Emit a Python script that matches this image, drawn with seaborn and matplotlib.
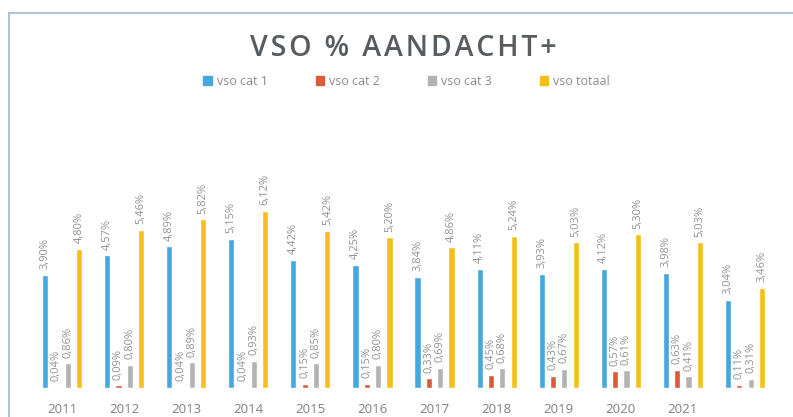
import pandas as pd
import seaborn as sns
import matplotlib.pyplot as plt
from matplotlib.patches import Rectangle

# values (percentages)
years = ['2011', '2012', '2013', '2014', '2015', '2016',
         '2017', '2018', '2019', '2020', '2021', '2022']
tick_labels = ['2011', '2012', '2013', '2014', '2015', '2016',
               '2017', '2018', '2019', '2020', '2021', '']
series = ['vso cat 1', 'vso cat 2', 'vso cat 3', 'vso totaal']
cat1 = [3.90, 4.57, 4.89, 5.15, 4.42, 4.25, 3.84, 4.11, 3.93, 4.12, 3.98, 3.04]
cat2 = [0.04, 0.09, 0.04, 0.04, 0.15, 0.15, 0.33, 0.45, 0.43, 0.57, 0.63, 0.11]
cat3 = [0.86, 0.80, 0.89, 0.93, 0.85, 0.80, 0.69, 0.68, 0.67, 0.61, 0.41, 0.31]
totaal = [4.80, 5.46, 5.82, 6.12, 5.42, 5.20, 4.86, 5.24, 5.03, 5.30, 5.03, 3.46]

colors = ['#45A7DE', '#DA5B3A', '#B3B3B3', '#F4BF1A']

rows = []
for name, vals in zip(series, [cat1, cat2, cat3, totaal]):
    for y, v in zip(years, vals):
        rows.append({'jaar': y, 'serie': name, 'pct': v})
df = pd.DataFrame(rows)

sns.set_style('white')
plt.rcParams['font.family'] = ['Open Sans', 'DejaVu Sans']

fig = plt.figure(figsize=(7.93, 4.17), dpi=100)
ax = fig.add_axes([31 / 793, 29 / 417, 745 / 793, 203 / 417])

sns.barplot(data=df, x='jaar', y='pct', hue='serie', order=years,
            hue_order=series, palette=colors, width=0.73, gap=0.45,
            saturation=1, legend=False, ax=ax)

# data labels, Dutch decimal comma
for cont in ax.containers:
    labs = [f'{b.get_height():.2f}%'.replace('.', ',') for b in cont]
    ax.bar_label(cont, labels=labs, rotation=90, padding=4,
                 fontsize=8, color='#929292')

ax.set_ylim(0, 7)
ax.set_xlim(-0.5, 11.5)
ax.set_xticks(range(len(years)))
ax.set_xticklabels(tick_labels, fontsize=9.5, color='#808080')
ax.tick_params(axis='x', length=0, pad=11)
ax.set_yticks([])
ax.set_xlabel('')
ax.set_ylabel('')
for s in ax.spines.values():
    s.set_visible(False)

# letter-spaced title
title = '\u200a'.join('VSO % AANDACHT+')
fig.text(0.509, 0.884, title, ha='center', va='center',
         fontsize=20.5, color='#575C61', fontweight='semibold')

handles = [Rectangle((0, 0), 1, 1, color=c) for c in colors]
fig.legend(handles, series, loc='center', bbox_to_anchor=(0.513, 0.805),
           ncol=4, frameon=False, fontsize=9, labelcolor='#8A8A8A',
           handlelength=0.7, handleheight=0.7, handletextpad=0.4,
           columnspacing=3.8)

# outer chart frame
fig.patches.append(Rectangle((9 / 793, -0.02), 1.0, (417 - 13) / 417 + 0.02,
                             transform=fig.transFigure, fill=False,
                             edgecolor='#AFC3D3', linewidth=1.5))

fig.savefig('out.png', dpi=100, facecolor='white')
